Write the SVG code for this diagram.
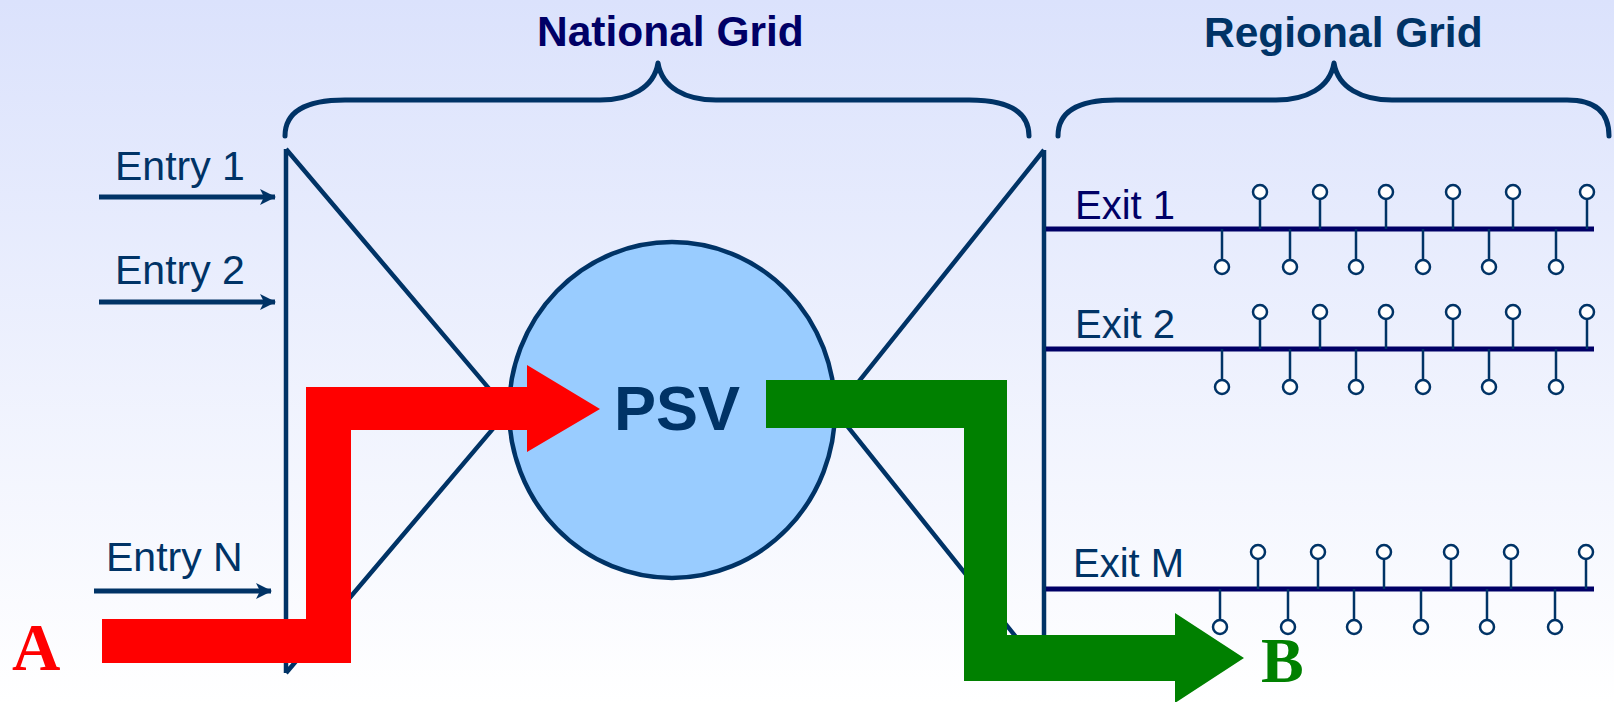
<svg xmlns="http://www.w3.org/2000/svg" width="1614" height="702" viewBox="0 0 1614 702">
  <defs>
    <linearGradient id="bg" x1="0" y1="0" x2="0" y2="1">
      <stop offset="0" stop-color="#dbe2fc"/>
      <stop offset="1" stop-color="#ffffff"/>
    </linearGradient>
    <marker id="ah" viewBox="0 0 16 16" refX="15" refY="8" markerWidth="16" markerHeight="16" markerUnits="userSpaceOnUse" orient="auto">
      <path d="M0,0 L16,8 L0,16 L4,8 Z" fill="#003366"/>
    </marker>
    <g id="stubUp" stroke="#003366" stroke-width="2.5">
      <line x1="0" y1="-29" x2="0" y2="0"/>
      <circle cx="0" cy="-37" r="7" fill="#ffffff"/>
    </g>
    <g id="stubDown" stroke="#003366" stroke-width="2.5">
      <line x1="0" y1="0" x2="0" y2="30"/>
      <circle cx="0" cy="38" r="7" fill="#ffffff"/>
    </g>
  </defs>
  <style>
    .lbl { font-family: "Liberation Sans", Arial, sans-serif; fill: #003366; }
    .hdr { font-family: "Liberation Sans", Arial, sans-serif; font-weight: bold; font-size: 42.5px; }
    .brace { fill: none; stroke: #003366; stroke-width: 5; stroke-linecap: round; stroke-linejoin: round; }
    .frame { fill: none; stroke: #003366; stroke-width: 4.5; stroke-linejoin: miter; stroke-miterlimit: 20; }
    .bus { stroke: #000066; stroke-width: 5; }
    .entry { stroke: #003366; stroke-width: 5; fill: none; }
    .pt { font-family: "Liberation Serif", "Times New Roman", serif; font-weight: bold; }
  </style>

  <rect x="0" y="0" width="1614" height="702" fill="url(#bg)"/>

  <g id="national-grid">
    <path class="brace" d="M285,136 C285,112 305,100 345,100 L600,100 C630,100 654,88 658,63 C662,88 686,100 716,100 L969,100 C1009,100 1029,112 1029,136"/>
    <text class="hdr" x="537" y="46" fill="#000066">National Grid</text>
  </g>

  <g id="regional-grid">
    <path class="brace" d="M1058,136 C1058,112 1078,100 1116,100 L1276,100 C1306,100 1330,88 1334,63 C1338,88 1362,100 1392,100 L1567,100 C1595,100 1609,112 1609,136"/>
    <text class="hdr" x="1204" y="47" fill="#003366">Regional Grid</text>
  </g>

  <g id="entry-side">
    <path class="frame" d="M286,149 L286,673 M286,149 L580,496 M286,673 L580,326"/>
  </g>

  <g id="exit-side">
    <path class="frame" d="M1044,150 L1044,672 M1044,150 L760,505 M1044,672 L760,317"/>
  </g>

  <g id="psv">
    <ellipse cx="672" cy="410" rx="163" ry="168" fill="#99ccff" stroke="#003366" stroke-width="4.5"/>
    <text class="lbl" x="614" y="430" font-size="63" font-weight="bold">PSV</text>
  </g>

  <g id="entry-1">
    <text class="lbl" x="115" y="180" font-size="41">Entry 1</text>
  </g>
  <g id="entry-2">
    <text class="lbl" x="115" y="284" font-size="41">Entry 2</text>
  </g>
  <g id="entry-n">
    <text class="lbl" x="106" y="571" font-size="41">Entry N</text>
  </g>

  <g id="exit-1">
    <line class="bus" x1="1046" y1="229" x2="1594" y2="229"/>
    <text class="lbl" x="1075" y="219" font-size="40" style="fill:#000066">Exit 1</text>
    <g transform="translate(0,229)">
      <use href="#stubUp" x="1260"/><use href="#stubUp" x="1320"/><use href="#stubUp" x="1386"/>
      <use href="#stubUp" x="1453"/><use href="#stubUp" x="1513"/><use href="#stubUp" x="1587"/>
      <use href="#stubDown" x="1222"/><use href="#stubDown" x="1290"/><use href="#stubDown" x="1356"/>
      <use href="#stubDown" x="1423"/><use href="#stubDown" x="1489"/><use href="#stubDown" x="1556"/>
    </g>
  </g>

  <g id="exit-2">
    <line class="bus" x1="1046" y1="349" x2="1594" y2="349"/>
    <text class="lbl" x="1075" y="338" font-size="40">Exit 2</text>
    <g transform="translate(0,349)">
      <use href="#stubUp" x="1260"/><use href="#stubUp" x="1320"/><use href="#stubUp" x="1386"/>
      <use href="#stubUp" x="1453"/><use href="#stubUp" x="1513"/><use href="#stubUp" x="1587"/>
      <use href="#stubDown" x="1222"/><use href="#stubDown" x="1290"/><use href="#stubDown" x="1356"/>
      <use href="#stubDown" x="1423"/><use href="#stubDown" x="1489"/><use href="#stubDown" x="1556"/>
    </g>
  </g>

  <g id="exit-m">
    <line class="bus" x1="1046" y1="589" x2="1594" y2="589"/>
    <text class="lbl" x="1073" y="577" font-size="40">Exit M</text>
    <g transform="translate(0,589)">
      <use href="#stubUp" x="1258"/><use href="#stubUp" x="1318"/><use href="#stubUp" x="1384"/>
      <use href="#stubUp" x="1451"/><use href="#stubUp" x="1511"/><use href="#stubUp" x="1586"/>
      <use href="#stubDown" x="1220"/><use href="#stubDown" x="1288"/><use href="#stubDown" x="1354"/>
      <use href="#stubDown" x="1421"/><use href="#stubDown" x="1487"/><use href="#stubDown" x="1555"/>
    </g>
  </g>

  <g id="point-a">
    <text class="pt" x="12" y="670" font-size="67" fill="#ff0000">A</text>
  </g>
  <g id="point-b">
    <text class="pt" x="1261" y="682" font-size="64" fill="#008000">B</text>
  </g>

  <g id="connectors">
    <line class="entry" x1="99" y1="197" x2="275" y2="197" marker-end="url(#ah)"/>
    <line class="entry" x1="99" y1="302" x2="275" y2="302" marker-end="url(#ah)"/>
    <line class="entry" x1="94" y1="591" x2="271" y2="591" marker-end="url(#ah)"/>
    <path fill="#ff0000" d="M102,619 L306,619 L306,387 L527,387 L527,365 L600,409 L527,452 L527,430 L351,430 L351,663 L102,663 Z"/>
    <path fill="#008000" d="M766,380 L1007,380 L1007,635 L1175,635 L1175,613 L1244,658 L1175,703 L1175,681 L964,681 L964,428 L766,428 Z"/>
  </g>
</svg>
